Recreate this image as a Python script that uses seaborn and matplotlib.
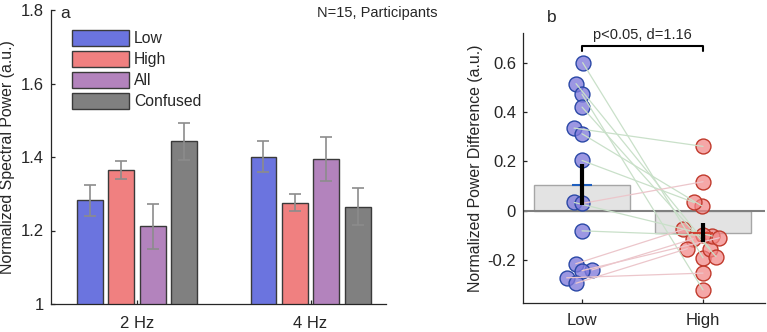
import numpy as np
import pandas as pd
import matplotlib
matplotlib.use("Agg")
import matplotlib.pyplot as plt
from matplotlib.container import BarContainer
import seaborn as sns

sns.set_theme(style="white")
plt.rcParams['font.family'] = ['Liberation Sans', 'DejaVu Sans']

# ---------------- data ----------------
freqs = ["2 Hz", "4 Hz"]
conditions = ["Low", "High", "All", "Confused"]
power_2hz = [1.282, 1.364, 1.211, 1.443]
power_4hz = [1.401, 1.276, 1.395, 1.265]
err_2hz = [0.042, 0.024, 0.061, 0.050]
err_4hz = [0.043, 0.023, 0.060, 0.051]

groups_b = ["Low", "High"]
low_diff = [0.600, 0.515, 0.472, 0.420, 0.335, 0.312, 0.204, 0.034, 0.030,
            -0.081, -0.214, -0.239, -0.242, -0.271, -0.293]
high_diff = [-0.190, -0.153, -0.320, -0.185, 0.261, 0.020, 0.034, -0.102, 0.118,
             -0.099, -0.075, -0.113, -0.109, -0.252, -0.153]
# horizontal jitter of the dots (layout only)
low_jit = [0.005, -0.05, 0.0, 0.0, -0.066, 0.0, 0.0, -0.064, 0.0,
           0.0, -0.052, 0.083, 0.0, -0.127, -0.05]
high_jit = [0.0, 0.058, 0.0, 0.107, 0.0, -0.01, -0.074, 0.077, 0.0,
            0.0, -0.163, -0.08, 0.135, 0.0, -0.13]

palette = ["#6b74df", "#f08080", "#b383bd", "#808080"]
TXT = "#262626"

W, H = 767, 332
fig = plt.figure(figsize=(W / 100, H / 100), dpi=100)

def ax_rect(l, r, t, b):
    return [l / W, 1 - b / H, (r - l) / W, (b - t) / H]

# ---------------- panel a ----------------
axa = fig.add_axes(ax_rect(51, 386, 10, 304))
rows = []
for f, vals in zip(freqs, [power_2hz, power_4hz]):
    for c, v in zip(conditions, vals):
        rows.append({"freq": f, "cond": c, "power": v})
dfa = pd.DataFrame(rows)
sns.barplot(data=dfa, x="freq", y="power", hue="cond", order=freqs,
            hue_order=conditions, palette=palette, width=0.724, gap=0.18,
            errorbar=None, edgecolor="#3a3a3a", linewidth=1.0, saturation=1,
            ax=axa)
errs = {"2 Hz": err_2hz, "4 Hz": err_4hz}
bar_conts = [c for c in axa.containers if isinstance(c, BarContainer)]
for ci, cont in enumerate(bar_conts):
    for fi, bar in enumerate(cont):
        xc = bar.get_x() + bar.get_width() / 2
        axa.errorbar(xc, bar.get_height(), yerr=errs[freqs[fi]][ci],
                     color="#8c8c8c", lw=1.2, capsize=4, capthick=1.2, zorder=5)
axa.set_ylim(1, 1.8)
axa.set_xlim(-0.496, 1.435)
axa.set_yticks([1, 1.2, 1.4, 1.6, 1.8])
axa.set_yticklabels(["1", "1.2", "1.4", "1.6", "1.8"])
axa.set_xlabel("")
axa.set_ylabel("Normalized Spectral Power (a.u.)", fontsize=11.4, color=TXT)
axa.yaxis.set_label_coords(-0.107, 0.5)
handles, labels = axa.get_legend_handles_labels()
axa.legend(handles, labels, frameon=False, loc="upper left",
           bbox_to_anchor=(72 / W, 1 - 30 / H), bbox_transform=fig.transFigure,
           borderpad=0, borderaxespad=0, handlelength=3.6, handleheight=1.2,
           labelspacing=0.3, handletextpad=0.35, fontsize=11.3, labelcolor=TXT)
axa.text(60 / W, 1 - 14 / H, "a", transform=fig.transFigure, fontsize=12.5,
         color=TXT, va="center", ha="left")
axa.text(437 / W, 1 - 13 / H, "N=15, Participants", transform=fig.transFigure,
         fontsize=10.5, color=TXT, va="center", ha="right")

# ---------------- panel b ----------------
axb = fig.add_axes(ax_rect(523, 765, 33, 303))
dfb = pd.DataFrame({"group": ["Low"] * len(low_diff) + ["High"] * len(high_diff),
                    "diff": low_diff + high_diff})
sns.barplot(data=dfb, x="group", y="diff", order=groups_b, color="#e3e3e3",
            edgecolor="#a6a6a6", linewidth=1.0, errorbar=None, width=0.8,
            saturation=1, ax=axb)
axb.axhline(0, color="#7f7f7f", lw=1.5, zorder=2)

low_arr = np.array(low_diff)
high_arr = np.array(high_diff)
xl = 0 + np.array(low_jit)
xh = 1 + np.array(high_jit)
for i in range(len(low_arr)):
    col = "#c9e0c9" if low_arr[i] > high_arr[i] else "#ecc6cb"
    axb.plot([xl[i], xh[i]], [low_arr[i], high_arr[i]], color=col, lw=0.9,
             zorder=6)
axb.scatter(xl, low_arr, s=115, facecolor=(0.50, 0.48, 0.86, 0.78),
            edgecolor="#2a48a6", linewidth=1.0, zorder=4)
axb.scatter(xh, high_arr, s=115, facecolor=(0.95, 0.52, 0.52, 0.72),
            edgecolor="#c0392b", linewidth=1.0, zorder=4)

for xi, arr, mcol in [(0, low_arr, "#1f5fbf"), (1, high_arr, "#d04030")]:
    m = arr.mean()
    se = arr.std(ddof=1) / np.sqrt(len(arr))
    axb.hlines(m, xi - 0.08, xi + 0.08, color=mcol, lw=1.5, zorder=7)
    axb.errorbar(xi, m, yerr=se, color="black", lw=3, capsize=0, zorder=8)

axb.set_xlim(-0.488, 1.512)
axb.set_ylim(-0.373, 0.72)
axb.set_yticks([-0.2, 0, 0.2, 0.4, 0.6])
axb.set_yticklabels(["-0.2", "0", "0.2", "0.4", "0.6"])
axb.set_xlabel("")
axb.set_ylabel("Normalized Power Difference (a.u.)", fontsize=11.4, color=TXT)
axb.yaxis.set_label_coords(-0.165, 0.5)

# significance bracket
by = 0.667
axb.plot([0, 0, 1, 1], [by - 0.02, by, by, by - 0.02], color="black", lw=1.5,
         clip_on=False, zorder=9)
axb.text(0.5, by + 0.018, "p<0.05, d=1.16", ha="center", va="bottom",
         fontsize=10.5, color=TXT)
axb.text(547 / W, 1 - 17 / H, "b", transform=fig.transFigure, fontsize=12.5,
         color=TXT, va="center", ha="left")

for ax in (axa, axb):
    sns.despine(ax=ax)
    for s in ("left", "bottom"):
        ax.spines[s].set_color("#262626")
        ax.spines[s].set_linewidth(0.9)
    ax.tick_params(axis="both", which="both", direction="in", length=3,
                   width=0.9, color="#262626", labelsize=12, labelcolor=TXT,
                   left=True, bottom=True)
    ax.tick_params(axis="y", pad=5)
axa.tick_params(axis="x", pad=8.5)
axb.tick_params(axis="x", pad=7)

fig.savefig("out.png", dpi=100)
